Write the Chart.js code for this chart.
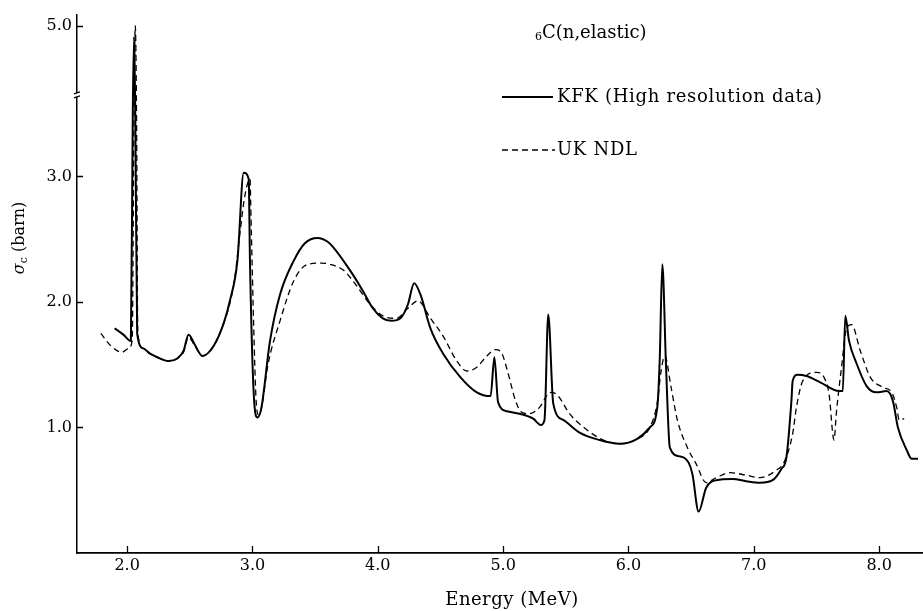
<!DOCTYPE html>
<html>
<head>
<meta charset="utf-8">
<script src="https://cdn.jsdelivr.net/npm/chart.js@4.4.1/dist/chart.umd.min.js"></script>
<style>
  html, body { margin: 0; padding: 0; background: #fff; }
  #wrap { width: 923px; height: 611px; }
</style>
</head>
<body>
<div id="wrap"><canvas id="chart_c_elastic" width="923" height="611"></canvas></div>
<script>
// energies (MeV) and cross sections (barn)
const kfkEnergy = [1.90, 1.97, 2.03, 2.045, 2.055, 2.065, 2.08, 2.13, 2.18, 2.24, 2.33, 2.40, 2.45, 2.49, 2.54, 2.60,
  2.69, 2.77, 2.82, 2.88, 2.93, 2.97, 2.98, 3.01, 3.04, 3.07, 3.14, 3.22, 3.33, 3.42, 3.52, 3.60, 3.65, 3.78,
  3.88, 3.96, 4.04, 4.11, 4.18, 4.24, 4.29, 4.34, 4.42, 4.52, 4.66, 4.79, 4.90, 4.93, 4.96, 5.03, 5.13, 5.24,
  5.30, 5.33, 5.36, 5.40, 5.48, 5.61, 5.77, 5.93, 6.07, 6.17, 6.23, 6.25, 6.27, 6.30, 6.33, 6.41, 6.48, 6.51,
  6.56, 6.62, 6.70, 6.83, 6.95, 7.05, 7.15, 7.22, 7.26, 7.30, 7.31, 7.35, 7.42, 7.53, 7.68, 7.71, 7.73, 7.76,
  7.82, 7.90, 7.98, 8.06, 8.11, 8.15, 8.22, 8.26, 8.31];
const kfkSigma = [1.79, 1.74, 1.69, 3.5, 4.8, 3.5, 1.75, 1.63, 1.59, 1.56, 1.53, 1.55, 1.61, 1.74, 1.66, 1.57,
  1.65, 1.83, 2.01, 2.33, 3.03, 2.98, 2.33, 1.27, 1.08, 1.15, 1.69, 2.06, 2.33, 2.47, 2.51, 2.48, 2.43, 2.25,
  2.09, 1.95, 1.87, 1.85, 1.87, 1.98, 2.15, 2.06, 1.79, 1.59, 1.40, 1.28, 1.25, 1.56, 1.20, 1.13, 1.11, 1.07,
  1.02, 1.06, 1.90, 1.19, 1.06, 0.96, 0.90, 0.87, 0.91, 1.00, 1.16, 1.56, 2.30, 1.48, 0.84, 0.77, 0.72, 0.63,
  0.33, 0.52, 0.58, 0.59, 0.57, 0.56, 0.58, 0.67, 0.76, 1.21, 1.37, 1.42, 1.41, 1.36, 1.29, 1.29, 1.89, 1.69,
  1.51, 1.33, 1.28, 1.29, 1.21, 1.00, 0.82, 0.75, 0.75];

const ndlEnergy = [1.79, 1.87, 1.96, 2.01, 2.04, 2.055, 2.065, 2.075, 2.085, 2.13, 2.18, 2.24, 2.33, 2.40, 2.45,
  2.49, 2.54, 2.60, 2.69, 2.77, 2.82, 2.86, 2.90, 2.94, 2.98, 2.99, 3.01, 3.03, 3.05, 3.08, 3.12, 3.22, 3.33,
  3.44, 3.55, 3.62, 3.73, 3.83, 3.94, 4.04, 4.15, 4.24, 4.32, 4.42, 4.52, 4.63, 4.71, 4.79, 4.87, 4.94, 4.99,
  5.04, 5.10, 5.15, 5.21, 5.29, 5.36, 5.39, 5.44, 5.53, 5.67, 5.80, 5.93, 6.07, 6.17, 6.23, 6.26, 6.29, 6.34,
  6.39, 6.47, 6.54, 6.62, 6.70, 6.81, 6.94, 7.05, 7.18, 7.24, 7.31, 7.34, 7.39, 7.50, 7.56, 7.60, 7.64, 7.66,
  7.70, 7.74, 7.78, 7.85, 7.93, 8.03, 8.10, 8.14, 8.16, 8.20];
const ndlSigma = [1.75, 1.65, 1.60, 1.63, 1.69, 3.5, 5.0, 3.5, 1.75, 1.63, 1.59, 1.56, 1.53, 1.55, 1.60,
  1.72, 1.65, 1.57, 1.65, 1.83, 1.99, 2.20, 2.55, 2.85, 2.98, 2.60, 1.80, 1.20, 1.10, 1.20, 1.48, 1.85, 2.17,
  2.30, 2.31, 2.30, 2.25, 2.13, 1.98, 1.89, 1.87, 1.95, 2.01, 1.87, 1.73, 1.53, 1.45, 1.48, 1.57, 1.62, 1.59,
  1.43, 1.21, 1.12, 1.11, 1.16, 1.27, 1.28, 1.25, 1.11, 0.98, 0.90, 0.87, 0.91, 1.00, 1.20, 1.45, 1.57, 1.32,
  1.06, 0.84, 0.71, 0.56, 0.60, 0.64, 0.62, 0.60, 0.66, 0.72, 0.95, 1.16, 1.37, 1.44, 1.40, 1.27, 0.90, 1.13,
  1.48, 1.79, 1.82, 1.61, 1.40, 1.32, 1.28, 1.16, 1.06, 1.07];

const xTicks = [2.0, 3.0, 4.0, 5.0, 6.0, 7.0, 8.0];
const yTicks = [1.0, 2.0, 3.0, 5.0];
const seriesNames = ["KFK (High resolution data)", "UK NDL"];

// the y axis is broken above 3.6 barn, 3.6..5.0 is squeezed
function toAxis(v) {
  if (v <= 3.6) return v;
  return 3.6 + (v - 3.6) * 0.6 / 1.4;
}

function pts(xs, ys) {
  return xs.map((e, i) => ({ x: e, y: toAxis(ys[i]) }));
}

const serif = "'DejaVu Serif', 'Liberation Serif', serif";
Chart.defaults.font.family = serif;
Chart.defaults.font.size = 16;
Chart.defaults.color = "#000";

const decor = {
  id: "decor",
  afterDraw(chart) {
    const { ctx, chartArea: a, scales } = chart;
    const x = scales.x, y = scales.y;
    ctx.save();
    ctx.strokeStyle = "#000";
    ctx.fillStyle = "#000";
    ctx.lineWidth = 1.3;
    ctx.beginPath();
    xTicks.forEach((v) => {
      const px = Math.round(x.getPixelForValue(v)) + 0.5;
      ctx.moveTo(px, a.bottom);
      ctx.lineTo(px, a.bottom - 7);
    });
    yTicks.forEach((v) => {
      const py = Math.round(y.getPixelForValue(toAxis(v))) + 0.5;
      ctx.moveTo(a.left, py);
      ctx.lineTo(a.left + 6, py);
    });
    ctx.stroke();

    // axis break mark
    const by = y.getPixelForValue(3.65);
    ctx.fillStyle = "#fff";
    ctx.fillRect(a.left - 3, by - 2, 6, 4);
    ctx.beginPath();
    ctx.moveTo(a.left - 3, by - 1);
    ctx.lineTo(a.left + 3, by - 3);
    ctx.moveTo(a.left - 3, by + 3);
    ctx.lineTo(a.left + 3, by + 1);
    ctx.stroke();
    ctx.fillStyle = "#000";

    // x axis title
    ctx.font = "18px " + serif;
    ctx.letterSpacing = "0.5px";
    ctx.textAlign = "center";
    ctx.textBaseline = "middle";
    ctx.fillText("Energy (MeV)", 512, 600);
    ctx.letterSpacing = "0px";

    // y axis title, rotated
    ctx.save();
    ctx.translate(20, 238);
    ctx.rotate(-Math.PI / 2);
    ctx.textAlign = "left";
    ctx.font = "italic 16px " + serif;
    const wSig = ctx.measureText("σ").width;
    ctx.font = "11px " + serif;
    const wSub = ctx.measureText("c").width;
    ctx.font = "16px " + serif;
    const wRest = ctx.measureText(" (barn)").width;
    let sx = -(wSig + wSub + wRest) / 2;
    ctx.font = "italic 16px " + serif;
    ctx.fillText("σ", sx, 0);
    sx += wSig;
    ctx.font = "11px " + serif;
    ctx.fillText("c", sx, 4);
    sx += wSub;
    ctx.font = "16px " + serif;
    ctx.fillText(" (barn)", sx, 0);
    ctx.restore();

    // reaction label
    ctx.textAlign = "left";
    ctx.font = "11px " + serif;
    ctx.fillText("6", 535, 37);
    ctx.font = "18px " + serif;
    ctx.fillText("C(n,elastic)", 542, 33);

    // legend
    ctx.lineWidth = 2;
    ctx.beginPath();
    ctx.moveTo(502, 97);
    ctx.lineTo(553, 97);
    ctx.stroke();
    ctx.lineWidth = 1.3;
    ctx.setLineDash([6, 4]);
    ctx.beginPath();
    ctx.moveTo(502, 150);
    ctx.lineTo(555, 150);
    ctx.stroke();
    ctx.setLineDash([]);
    ctx.letterSpacing = "0.7px";
    ctx.fillText(seriesNames[0], 557, 97);
    ctx.fillText(seriesNames[1], 557, 150);
    ctx.restore();
  },
};

const ctxC = document.getElementById("chart_c_elastic").getContext("2d");
const chartC = new Chart(ctxC, {
  type: "line",
  data: {
    datasets: [
      {
        label: seriesNames[0],
        data: pts(kfkEnergy, kfkSigma),
        borderColor: "#000",
        borderWidth: 2,
        pointRadius: 0,
        fill: false,
        cubicInterpolationMode: "monotone",
      },
      {
        label: seriesNames[1],
        data: pts(ndlEnergy, ndlSigma),
        borderColor: "#000",
        borderWidth: 1.3,
        borderDash: [6, 4],
        pointRadius: 0,
        fill: false,
        cubicInterpolationMode: "monotone",
      },
    ],
  },
  options: {
    responsive: false,
    animation: false,
    layout: { padding: { top: 12, right: 0, left: 0, bottom: 0 } },
    plugins: {
      legend: { display: false },
      tooltip: { enabled: false },
    },
    scales: {
      x: {
        type: "linear",
        min: 1.6,
        max: 8.35,
        afterBuildTicks: (s) => { s.ticks = xTicks.map((v) => ({ value: v })); },
        afterFit: (s) => { s.height = 58; },
        grid: { display: true, drawOnChartArea: false, drawTicks: false },
        border: { display: true, color: "#000", width: 1.8 },
        ticks: {
          padding: 3,
          maxRotation: 0,
          callback: (v) => v.toFixed(1),
        },
      },
      y: {
        type: "linear",
        min: 0,
        max: 4.29,
        afterBuildTicks: (s) => { s.ticks = yTicks.map((v) => ({ value: toAxis(v) })); },
        afterFit: (s) => { s.width = 77; },
        grid: { display: true, drawOnChartArea: false, drawTicks: false },
        border: { display: true, color: "#000", width: 1.5 },
        ticks: {
          padding: 5,
          callback: (v, i) => yTicks[i].toFixed(1),
        },
      },
    },
  },
  plugins: [decor],
});
</script>
</body>
</html>
